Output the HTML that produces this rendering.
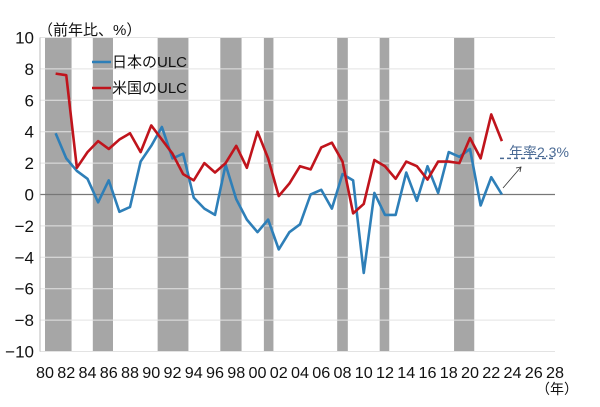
<!DOCTYPE html>
<html><head><meta charset="utf-8"><style>
body{margin:0;background:#fff;}
svg{display:block;font-family:"Liberation Sans","Noto Sans CJK JP",sans-serif;}
</style></head><body>
<svg id="chart" width="600" height="407"></svg>
<script>
const years=[1981,1982,1983,1984,1985,1986,1987,1988,1989,1990,1991,1992,1993,1994,1995,1996,1997,1998,1999,2000,2001,2002,2003,2004,2005,2006,2007,2008,2009,2010,2011,2012,2013,2014,2015,2016,2017,2018,2019,2020,2021,2022,2023];
const japanULC=[3.9,2.3,1.5,1.0,-0.5,0.9,-1.1,-0.8,2.1,3.1,4.3,2.3,2.6,-0.2,-0.9,-1.3,1.9,-0.3,-1.6,-2.4,-1.6,-3.5,-2.4,-1.9,0.0,0.3,-0.9,1.3,0.9,-5.0,0.1,-1.3,-1.3,1.4,-0.4,1.8,0.1,2.7,2.4,2.9,-0.7,1.1,0.0];
const usULC=[7.7,7.6,1.7,2.7,3.4,2.9,3.5,3.9,2.7,4.4,3.5,2.6,1.3,0.9,2.0,1.4,2.0,3.1,1.7,4.0,2.3,-0.1,0.7,1.8,1.6,3.0,3.3,2.1,-1.2,-0.6,2.2,1.8,1.0,2.1,1.8,0.95,2.1,2.1,2.0,3.6,2.3,5.1,3.4];
const recessionStart=[1980.0,1984.5,1990.6,1996.5,2000.6,2007.5,2011.5,2018.5];
const recessionEnd=[1982.5,1986.4,1993.5,1998.5,2001.5,2008.5,2012.4,2020.4];
const yTicks=[10,8,6,4,2,0,-2,-4,-6,-8,-10];
const xTickYears=[1980,1982,1984,1986,1988,1990,1992,1994,1996,1998,2000,2002,2004,2006,2008,2010,2012,2014,2016,2018,2020,2022,2024,2026,2028];
const trendRate=2.3;

const NS="http://www.w3.org/2000/svg";
const svg=document.getElementById('chart');
const X=y=>45+(y-1980)*10.625;
const Y=v=>194.5-v*15.7;
function mk(t,a,p){const e=document.createElementNS(NS,t);for(const k in a)e.setAttribute(k,a[k]);(p||svg).appendChild(e);return e;}

for(let i=0;i<recessionStart.length;i++){
 const r=mk('rect',{x:X(recessionStart[i]),y:Y(10),width:X(recessionEnd[i])-X(recessionStart[i]),height:Y(-10)-Y(10),fill:'#a6a6a6'});
 
 
}
yTicks.forEach(v=>{
 const l=mk('line',{x1:40,x2:X(2028),y1:Y(v),y2:Y(v),stroke:v===0?'#777':'#e3e3e3','stroke-width':v===0?1.3:1});
 
 
 const t=mk('text',{x:34,y:Y(v)+6,'text-anchor':'end','font-size':17,fill:'#111'});
 t.textContent=v<0?'−'+(-v):String(v);
 
 
});
const ax=mk('line',{x1:40,x2:40,y1:Y(10),y2:Y(-10),stroke:'#bbb'});


xTickYears.forEach(y=>{
 const t=mk('text',{x:X(y),y:378,'text-anchor':'middle','font-size':16,fill:'#111',textLength:18,lengthAdjust:'spacingAndGlyphs'});
 t.textContent=String(y%100).padStart(2,'0');
 
 
});
function series(vals,color,name){
 const p=mk('polyline',{points:vals.map((v,i)=>X(years[i])+','+Y(v)).join(' '),fill:'none',stroke:color,'stroke-width':2.6,'stroke-linejoin':'round'});
 
 
}
series(japanULC,'#2e7fb8','japan-ulc-line');
series(usULC,'#c0141c','us-ulc-line');

const tl=mk('line',{x1:500,x2:554,y1:Y(trendRate),y2:Y(trendRate),stroke:'#4a6a94','stroke-width':1.5,'stroke-dasharray':'4,3'});


const ar=mk('line',{x1:503,y1:188,x2:521,y2:167,stroke:'#333','stroke-width':0.8});


const ah=mk('polyline',{points:'516,168 521,167 520,172',fill:'none',stroke:'#333','stroke-width':0.8});


</script>
<script>
(function(){
const NS="http://www.w3.org/2000/svg";const svg=document.getElementById('chart');
function txt(x,y,s,sz,fill,name,anchor){const t=document.createElementNS(NS,'text');t.setAttribute('x',x);t.setAttribute('y',y);t.setAttribute('font-size',sz);t.setAttribute('fill',fill);if(anchor)t.setAttribute('text-anchor',anchor);t.textContent=s;


svg.appendChild(t);return t;}
txt(38,35,'（前年比、%）',15,'#111','y-axis-title');
txt(536,394,'（年）',14,'#111','x-axis-unit');
txt(509,157,'年率2.3%',14,'#4a6a94','trend-label');
function leg(y,color,label,name){const l=document.createElementNS(NS,'line');l.setAttribute('x1',92);l.setAttribute('x2',111);l.setAttribute('y1',y);l.setAttribute('y2',y);l.setAttribute('stroke',color);l.setAttribute('stroke-width',2.6);


svg.appendChild(l);txt(112,y+5,label,15,'#111',name+'-label');}
leg(62,'#2e7fb8','日本のULC','legend-japan');
leg(88,'#c0141c','米国のULC','legend-us');
})();
</script>
</body></html>
